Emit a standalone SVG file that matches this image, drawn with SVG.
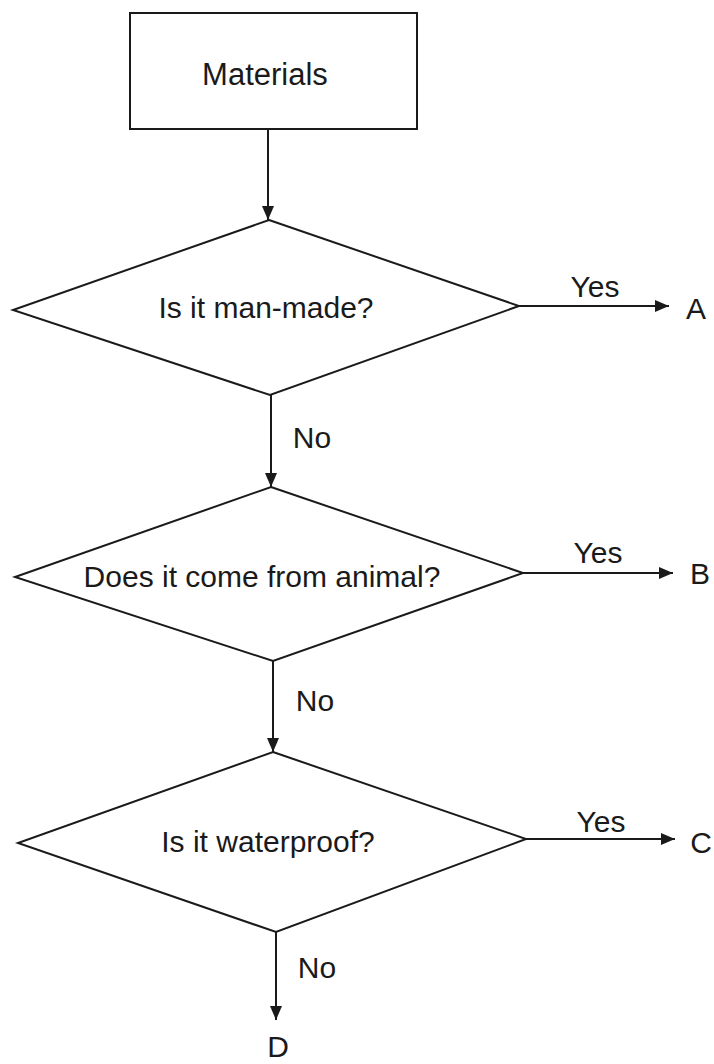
<svg xmlns="http://www.w3.org/2000/svg" width="714" height="1064" viewBox="0 0 714 1064">
<style>
  .shape { fill: #ffffff; stroke: #1a1a1a; stroke-width: 2; }
  .edge { fill: none; stroke: #1a1a1a; stroke-width: 2; }
  text { font-family: "Liberation Sans", Arial, sans-serif; font-size: 30px; fill: #1a1a1a; text-anchor: middle; }
</style>
<defs>
  <marker id="arrow" markerUnits="userSpaceOnUse" markerWidth="16" markerHeight="14" refX="14" refY="6" orient="auto">
    <path d="M0,0 L14,6 L0,12 z" fill="#1a1a1a"/>
  </marker>
</defs>
<rect width="714" height="1064" fill="#ffffff"/>
<g id="connectors">
  <line class="edge" x1="268" y1="129" x2="268" y2="220" marker-end="url(#arrow)"/>
  <line class="edge" x1="519" y1="306" x2="669" y2="306" marker-end="url(#arrow)"/>
  <line class="edge" x1="271" y1="395" x2="271" y2="487" marker-end="url(#arrow)"/>
  <line class="edge" x1="523" y1="573" x2="673" y2="573" marker-end="url(#arrow)"/>
  <line class="edge" x1="273" y1="661" x2="273" y2="752" marker-end="url(#arrow)"/>
  <line class="edge" x1="526" y1="839" x2="675" y2="839" marker-end="url(#arrow)"/>
  <line class="edge" x1="276" y1="932" x2="276" y2="1020" marker-end="url(#arrow)"/>
  <text x="595" y="297">Yes</text>
  <text x="312" y="448">No</text>
  <text x="598" y="563">Yes</text>
  <text x="315" y="711">No</text>
  <text x="601" y="832">Yes</text>
  <text x="317" y="978">No</text>
</g>
<g id="materials">
  <rect class="shape" x="130" y="13" width="287" height="116"/>
  <text x="265" y="85" style="font-size:31px">Materials</text>
</g>
<g id="q-man-made">
  <polygon class="shape" points="269,220 519,306 270,395 13,310"/>
  <text x="266" y="318">Is it man-made?</text>
</g>
<g id="q-animal">
  <polygon class="shape" points="271,487 523,573 273,661 15,577"/>
  <text x="262" y="587">Does it come from animal?</text>
</g>
<g id="q-waterproof">
  <polygon class="shape" points="273,752 526,839 276,932 18,843"/>
  <text x="268" y="852">Is it waterproof?</text>
</g>
<g id="out-a"><text x="696" y="319">A</text></g>
<g id="out-b"><text x="700" y="584">B</text></g>
<g id="out-c"><text x="701" y="853">C</text></g>
<g id="out-d"><text x="278" y="1057">D</text></g>
</svg>
